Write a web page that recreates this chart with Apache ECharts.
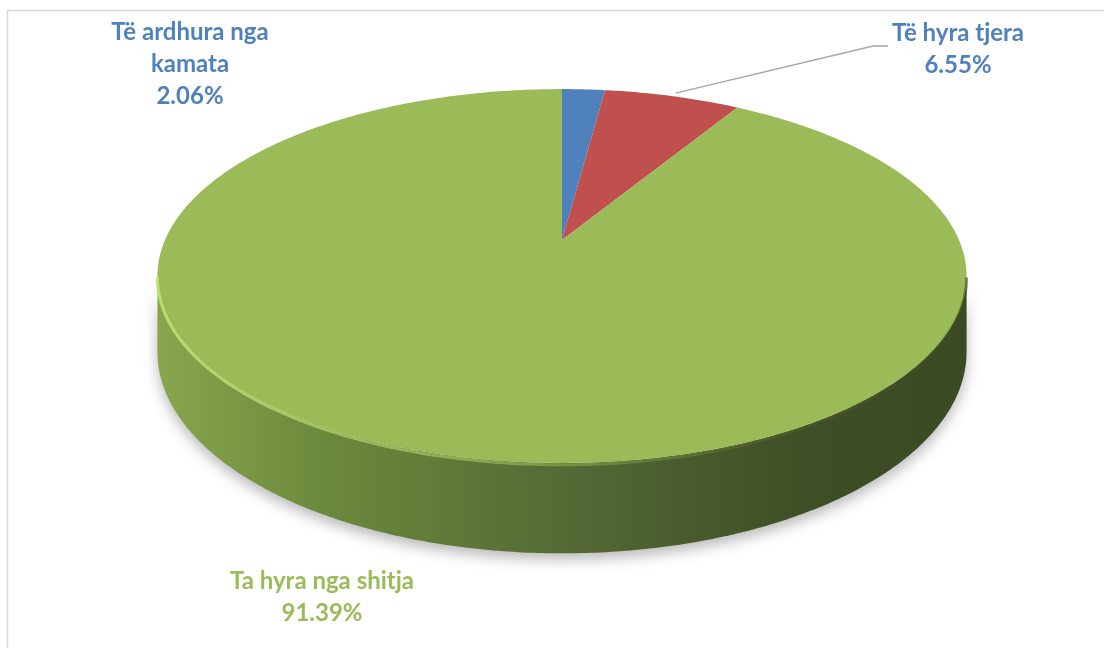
<!DOCTYPE html>
<html><head><meta charset="utf-8">
<script src="https://cdn.jsdelivr.net/npm/echarts@6/dist/echarts.min.js"></script>
<style>html,body{margin:0;padding:0;background:#fff}#c{width:1104px;height:648px}</style>
</head><body><div id="c"></div>
<script>
// ---- data ----
const categories = ['Të ardhura nga kamata', 'Të hyra tjera', 'Ta hyra nga shitja'];
const labelLines = [['Të ardhura nga', 'kamata'], ['Të hyra tjera'], ['Ta hyra nga shitja']];
const values = [2.06, 6.55, 91.39];

// ---- styles / layout ----
const colors = ['#4f81bd', '#c0504d', '#9bbb59'];
const labelColors = ['#4f81bd', '#4f81bd', '#9bbb59'];
const CX = 562, CY = 240, RX = 397, RY = 180, K = 0.1926, T = 73;
const total = values.reduce((a, b) => a + b, 0);

function proj(theta, depth) {
  const X = Math.sin(theta), Z = Math.cos(theta), w = 1 + K * Z;
  return [CX + RX * X / w, CY - RY * Z / w + (depth || 0) / w];
}
function arc(a, b, depth) {
  const pts = [], n = Math.max(2, Math.ceil((b - a) / 0.01));
  for (let i = 0; i <= n; i++) pts.push(proj(a + (b - a) * i / n, depth));
  return pts;
}
function angles(i) {
  let s = 0; for (let j = 0; j < i; j++) s += values[j];
  return [s / total * 2 * Math.PI, (s + values[i]) / total * 2 * Math.PI];
}
// visible side range: where cos(theta) < -K
const vis0 = Math.acos(-K), vis1 = 2 * Math.PI - Math.acos(-K);

const sideGrad = new echarts.graphic.LinearGradient(CX - RX * 1.02, 0, CX + RX * 1.02, 0, [
  { offset: 0, color: '#88a64e' }, { offset: 0.2, color: '#6c8a3c' },
  { offset: 0.5, color: '#556a35' }, { offset: 0.8, color: '#3f4e26' }, { offset: 1, color: '#3c4a23' }
], true);
const rimGrad = new echarts.graphic.LinearGradient(CX - RX, 0, CX + RX, 0, [
  { offset: 0, color: 'rgba(190,225,115,0.9)' }, { offset: 0.45, color: 'rgba(170,205,100,0.5)' },
  { offset: 0.8, color: 'rgba(80,100,40,0.35)' }, { offset: 1, color: 'rgba(60,75,30,0.6)' }
], true);

function renderItem(params, api) {
  const i = params.dataIndex;
  const [a, b] = angles(i);
  const children = [];
  const s = Math.max(a, vis0), e = Math.min(b, vis1);
  if (e > s) {
    const pts = arc(s, e, 0).concat(arc(s, e, T).reverse());
    children.push({ type: 'polygon', shape: { points: pts },
      style: { fill: i === 2 ? sideGrad : colors[i], shadowBlur: 14, shadowColor: 'rgba(0,0,0,0.28)', shadowOffsetY: 6 } });
  }
  const top = [[CX, CY]].concat(arc(a, b, 0));
  children.push({ type: 'polygon', shape: { points: top }, style: { fill: colors[i] } });
  if (e > s) {
    children.push({ type: 'polyline', shape: { points: arc(s, e, 1.5) },
      style: { stroke: rimGrad, lineWidth: 3, fill: null } });
  }
  return { type: 'group', children };
}

// labels
const pct = v => v.toFixed(2) + '%';
const labelPos = [[190, 16], [958, 17], [322, 565]];
const graphics = [{ type: 'rect', shape: { x: 7.5, y: 10.5, width: 1200, height: 700 },
  style: { fill: null, stroke: '#d9d9d9', lineWidth: 1.5 }, z: 0 }];
values.forEach((v, i) => {
  graphics.push({ type: 'text', x: labelPos[i][0], y: labelPos[i][1], z: 10,
    style: { text: labelLines[i].concat([pct(v)]).join('\n'), fill: labelColors[i],
      font: 'bold 24px Lato, "Open Sans", sans-serif', align: 'center', verticalAlign: 'top', lineHeight: 32 } });
});
// leader line for second slice
(function () {
  const [a, b] = angles(1);
  const p = proj((a + b) / 2, 0);
  graphics.push({ type: 'polyline', z: 10, shape: { points: [[p[0] + 3, p[1] - 3], [873, 46], [888, 46]] },
    style: { stroke: '#a6a6a6', lineWidth: 1.3, fill: null } });
})();

const chart = echarts.init(document.getElementById('c'), null, { renderer: 'canvas' });
chart.setOption({
  animation: false,
  backgroundColor: '#fff',
  series: [{ type: 'custom', coordinateSystem: 'none', renderItem,
    data: values.map((v, i) => ({ name: categories[i], value: v })) }],
  graphic: graphics
});
</script></body></html>
